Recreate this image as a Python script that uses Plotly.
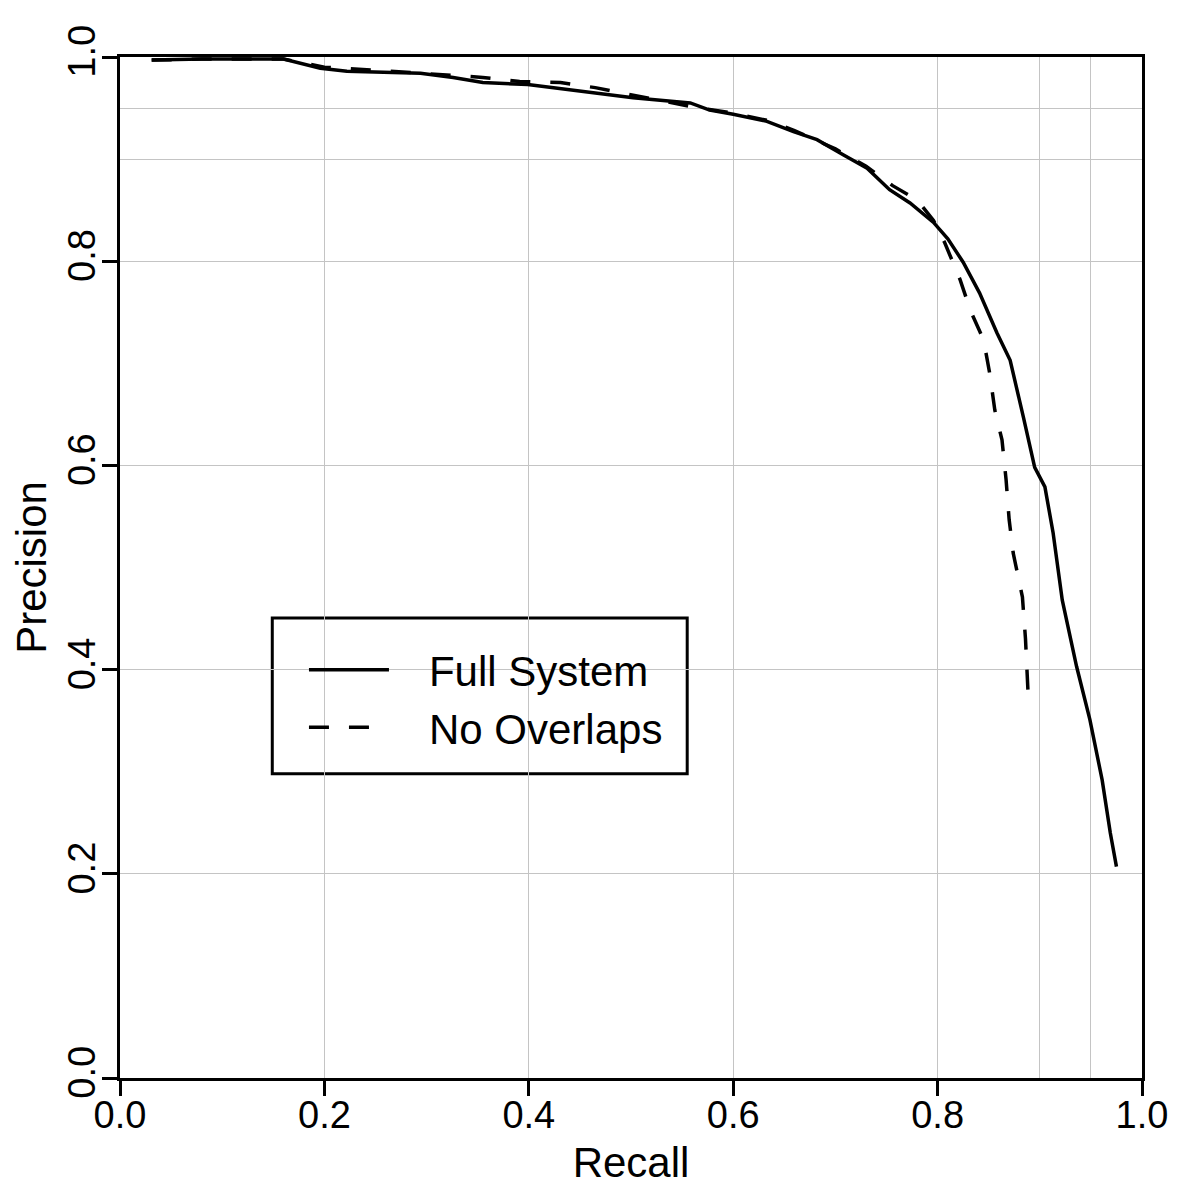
import plotly.graph_objects as go

# Full System curve
full_recall = [0.031, 0.08, 0.16, 0.196, 0.222, 0.257, 0.294, 0.326, 0.355, 0.399,
               0.431, 0.460, 0.502, 0.558, 0.577, 0.600, 0.633, 0.659, 0.682, 0.708,
               0.731, 0.753, 0.773, 0.796, 0.810, 0.825, 0.841, 0.858, 0.871, 0.884,
               0.895, 0.905, 0.913, 0.922, 0.936, 0.949, 0.961, 0.969, 0.975]
full_precision = [0.997, 0.998, 0.998, 0.989, 0.986, 0.985, 0.984, 0.980, 0.975, 0.973,
                  0.969, 0.965, 0.960, 0.955, 0.948, 0.944, 0.937, 0.927, 0.919, 0.904,
                  0.891, 0.870, 0.857, 0.838, 0.822, 0.799, 0.769, 0.730, 0.703, 0.647,
                  0.598, 0.579, 0.534, 0.468, 0.403, 0.351, 0.292, 0.240, 0.207]

# No Overlaps curve
nov_recall = [0.031, 0.08, 0.16, 0.200, 0.250, 0.300, 0.355, 0.391, 0.431, 0.465,
              0.499, 0.561, 0.600, 0.633, 0.660, 0.700, 0.730, 0.756, 0.780, 0.796,
              0.807, 0.822, 0.832, 0.845, 0.851, 0.856, 0.863, 0.867, 0.870, 0.874,
              0.883, 0.886, 0.889]
nov_precision = [0.997, 0.998, 0.998, 0.990, 0.987, 0.984, 0.980, 0.976, 0.975, 0.970,
                 0.963, 0.951, 0.945, 0.938, 0.928, 0.910, 0.893, 0.874, 0.860, 0.840,
                 0.818, 0.782, 0.752, 0.723, 0.690, 0.654, 0.625, 0.586, 0.547, 0.514,
                 0.471, 0.430, 0.367]

tick_vals = [0.0, 0.2, 0.4, 0.6, 0.8, 1.0]
tick_text = ["0.0", "0.2", "0.4", "0.6", "0.8", "1.0"]
extra_grid = [0.9, 0.95]

FONT = "Liberation Sans, Arial, sans-serif"
GAP = "\u00a0\u00a0\u00a0"  # space between legend line and label

fig = go.Figure()
fig.add_trace(go.Scatter(
    x=full_recall, y=full_precision,
    mode="lines", name=GAP + "Full System",
    line=dict(color="black", width=3.5),
))
fig.add_trace(go.Scatter(
    x=nov_recall, y=nov_precision,
    mode="lines", name=GAP + "No Overlaps",
    line=dict(color="black", width=3.5, dash="20px,20px"),
))

axis_common = dict(
    range=[0, 1],
    tickvals=tick_vals, ticktext=tick_text,
    ticks="outside", ticklen=15, tickwidth=3, tickcolor="black",
    showline=True, linewidth=3, linecolor="black", mirror=True,
    showgrid=True, gridcolor="#c4c4c4", gridwidth=1,
    zeroline=False,
    tickfont=dict(family=FONT, size=38, color="black"),
    minor=dict(tickvals=extra_grid, showgrid=True, gridcolor="#c4c4c4", gridwidth=1, ticks=""),
)

fig.update_layout(
    width=1192, height=1192,
    margin=dict(l=112, r=58, t=49, b=122),
    paper_bgcolor="white", plot_bgcolor="white",
    font=dict(family=FONT, color="black"),
    xaxis=dict(axis_common, ticklabelstandoff=-14,
               title=dict(text="Recall", font=dict(size=42), standoff=14)),
    yaxis=dict(axis_common, tickangle=-90, ticklabelstandoff=-8,
               title=dict(text="Precision", font=dict(size=42), standoff=6)),
    showlegend=True,
    legend=dict(
        x=0.18, y=0.433, xanchor="left", yanchor="top",
        bgcolor="rgba(0,0,0,0)", borderwidth=0,
        font=dict(family=FONT, size=42, color="black"),
        itemwidth=80,
    ),
    shapes=[dict(type="rect", xref="paper", yref="paper",
                 x0=0.149, x1=0.555, y0=0.298, y1=0.4505,
                 line=dict(color="black", width=3), fillcolor="white", layer="below")],
)

fig.write_html("out.html")
